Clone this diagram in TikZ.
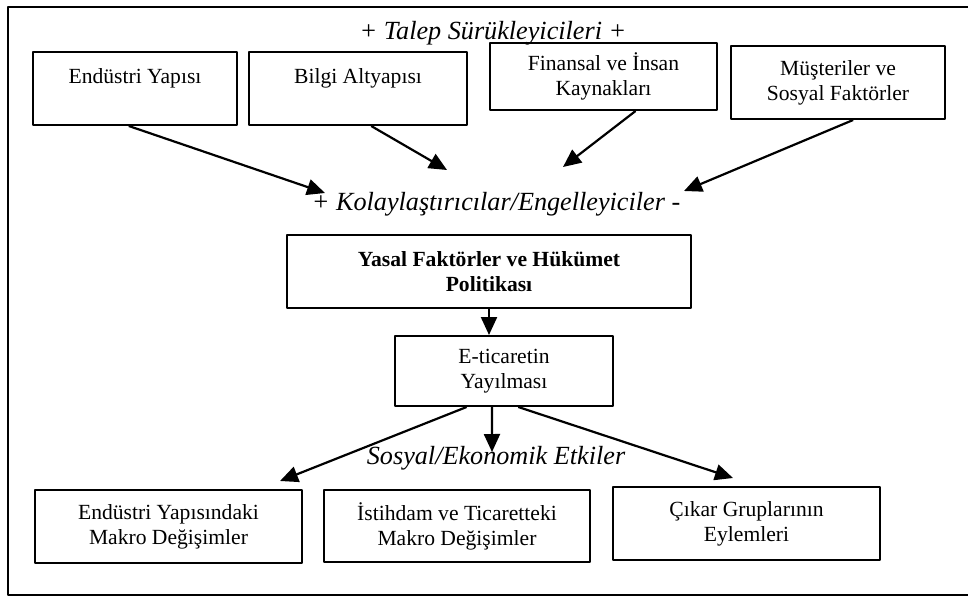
\documentclass[tikz,border=0pt]{standalone}
\usepackage{fontspec}
\setmainfont{Liberation Serif}
\usetikzlibrary{arrows.meta,calc}
\begin{document}
\begin{tikzpicture}[x=0.5pt, y=-0.5pt, line join=round, >={Triangle[length=9pt,width=8pt]},
	box/.style={draw, line width=1pt, align=center, inner sep=0pt, font=\fontsize{10.8}{12.5}\selectfont},
	lbl/.style={inner sep=0pt, font=\fontsize{13.1}{15}\selectfont\itshape},
	arr/.style={->, line width=1.1pt}]
	\useasboundingbox (0,0) rectangle (968,599);
	\draw[line width=1pt] (968,7) -- (8,7) -- (8,595) -- (968,595);
	% talep
	\node[lbl] (talep) at (493,33) {+ Talep Sürükleyicileri +};
	\node[box, minimum width=102pt, minimum height=36.5pt] (endustri) at (135,88.5) {Endüstri Yapısı\\~};
	\node[box, minimum width=109pt, minimum height=36.5pt] (bilgi) at (358,88.5) {Bilgi Altyapısı\\~};
	\node[box, minimum width=113.5pt, minimum height=33.5pt] (finansal) at (603.5,76.5) {Finansal ve İnsan\\Kaynakları};
	\node[box, minimum width=107pt, minimum height=36.5pt] (musteri) at (838,82.5) {Müşteriler ve\\Sosyal Faktörler};
	% kolaylastiricilar
	\node[lbl] (kolay) at (496,204) {+ Kolaylaştırıcılar/Engelleyiciler -};
	\coordinate (t1) at (325,193);
	\coordinate (t2) at (447,170);
	\coordinate (t3) at (563,167);
	\coordinate (t4) at (684,191);
	\foreach \src/\pos/\tip in {endustri/.47/t1, bilgi/.56/t2, finansal/.64/t3, musteri/.57/t4}
		\draw[arr] ($(\src.south west)!\pos!(\src.south east)$) -- (\tip);
	\node[box, font=\fontsize{10.8}{12.5}\selectfont\bfseries, minimum width=202pt, minimum height=36.5pt] (yasal) at (489,271.5) {Yasal Faktörler ve Hükümet\\Politikası};
	\node[box, minimum width=109pt, minimum height=35pt] (eticaret) at (504,371) {E-ticaretin\\Yayılması};
	\draw[arr] (yasal.south) -- (yasal.south |- eticaret.north);
	% etkiler
	\node[lbl] (etkiler) at (496,458) {Sosyal/Ekonomik Etkiler};
	\node[box, minimum width=133.5pt, minimum height=36.5pt] (makro1) at (168.5,526.5) {Endüstri Yapısındaki\\Makro Değişimler};
	\node[box, minimum width=133pt, minimum height=36pt] (makro2) at (457,526) {İstihdam ve Ticaretteki\\Makro Değişimler};
	\node[box, minimum width=133.5pt, minimum height=36.5pt] (cikar) at (746.5,523.5) {Çıkar Gruplarının\\Eylemleri};
	\coordinate (s1) at (280,481);
	\coordinate (s2) at (492,452);
	\coordinate (s3) at (733,478);
	\foreach \pos/\tip in {.33/s1, .445/s2, .565/s3}
		\draw[arr] ($(eticaret.south west)!\pos!(eticaret.south east)$) -- (\tip);
\end{tikzpicture}
\end{document}
